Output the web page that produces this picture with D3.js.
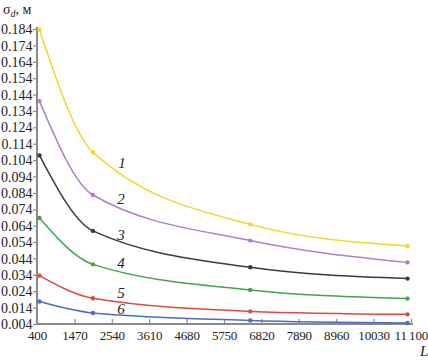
<!DOCTYPE html>
<html><head><meta charset="utf-8">
<script src="https://cdn.jsdelivr.net/npm/d3@7"></script>
<style>body{margin:0;background:#fff}svg{display:block}text{font-family:"Liberation Serif","DejaVu Serif",serif}</style>
</head><body><svg id="c" width="428" height="360"></svg>
<script>
const L = [470, 2000, 6500, 11000];
const s1 = [0.1835, 0.1088, 0.0648, 0.0516];
const s2 = [0.1400, 0.0827, 0.0549, 0.0416];
const s3 = [0.1069, 0.0608, 0.0386, 0.0317];
const s4 = [0.0687, 0.0404, 0.0248, 0.0195];
const s5 = [0.0335, 0.0197, 0.0117, 0.0099];
const s6 = [0.0177, 0.0107, 0.0062, 0.0046];
const seriesNames = ["1","2","3","4","5","6"];
const xTicks = [400,1470,2540,3610,4680,5750,6820,7890,8960,10030,11100];
const xTickLabels = ["400","1470","2540","3610","4680","5750","6820","7890","8960","10030","11\u2009100"];
const yTicks = [0.004,0.014,0.024,0.034,0.044,0.054,0.064,0.074,0.084,0.094,0.104,0.114,0.124,0.134,0.144,0.154,0.164,0.174,0.184];
const labelL = [2830, 2800, 2800, 2800, 2800, 2800];
const labelV = [0.1024, 0.0804, 0.0585, 0.0413, 0.0228, 0.0133];

const colors = ["#f7d52a","#b07fc8","#3a3a3a","#43a64a","#df4a3f","#4a6cc6"];
const series = [s1,s2,s3,s4,s5,s6];

const svg = d3.select("#c");
const x = d3.scaleLinear().domain([400,11100]).range([37,411]);
const y = d3.scaleLinear().domain([0.004,0.184]).range([324,29]);
const axisColor = "#8a8a8a";

// y axis
const ya = svg.append("g").attr("transform","translate(37,0)")
  .call(d3.axisLeft(y).tickValues(yTicks).tickFormat(d3.format(".3f")).tickSize(4).tickSizeOuter(0));
ya.select(".domain").attr("stroke",axisColor).attr("stroke-width",2).attr("d","M0,324V27");
ya.selectAll(".tick line").attr("stroke",axisColor).attr("stroke-width",1.2);
ya.selectAll(".tick text").attr("font-size","14px").attr("fill","#222").attr("x",-4.5).attr("dy","0.33em");

// x axis
const xa = svg.append("g").attr("transform","translate(0,324)")
  .call(d3.axisBottom(x).tickValues(xTicks).tickFormat((d,i)=>xTickLabels[i]).tickSize(-5).tickSizeOuter(0));
xa.select(".domain").attr("stroke",axisColor).attr("stroke-width",2).attr("d","M36,0H413");
xa.selectAll(".tick line").attr("stroke",axisColor).attr("stroke-width",1.2);
xa.selectAll(".tick text").attr("font-size","13px").attr("letter-spacing","-0.2px").attr("fill","#222").attr("y",7).attr("dy","0.71em");
xa.selectAll(".tick text").filter((d,i)=>i===xTicks.length-1).attr("text-anchor","end").attr("x",16.5);

// lines
const line = d3.line().x((d,i)=>x(L[i])).y(d=>y(d)).curve(d3.curveMonotoneX);
series.forEach((s,k)=>{
  svg.append("path").attr("d",line(s)).attr("fill","none").attr("stroke",colors[k]).attr("stroke-width",1.5);
  svg.append("g").selectAll("circle").data(s).join("circle")
    .attr("cx",(d,i)=>x(L[i])).attr("cy",d=>y(d)).attr("r",2.2).attr("fill",colors[k]);
  svg.append("text").attr("x",x(labelL[k])).attr("y",y(labelV[k])).attr("dy","0.35em")
    .attr("text-anchor","middle").attr("font-size","15px").attr("font-style","italic").attr("fill","#222")
    .text(seriesNames[k]);
});

// axis titles
const t = svg.append("text").attr("x",3).attr("y",14).attr("font-size","14px").attr("fill","#222");
t.append("tspan").text("σ");
t.append("tspan").attr("font-size","10px").attr("font-style","italic").attr("dy",3).text("d");
t.append("tspan").attr("dy",-3).text(", м");
svg.append("text").attr("x",420).attr("y",356).attr("font-size","15px").attr("font-style","italic").attr("fill","#222").text("L");
</script></body></html>
